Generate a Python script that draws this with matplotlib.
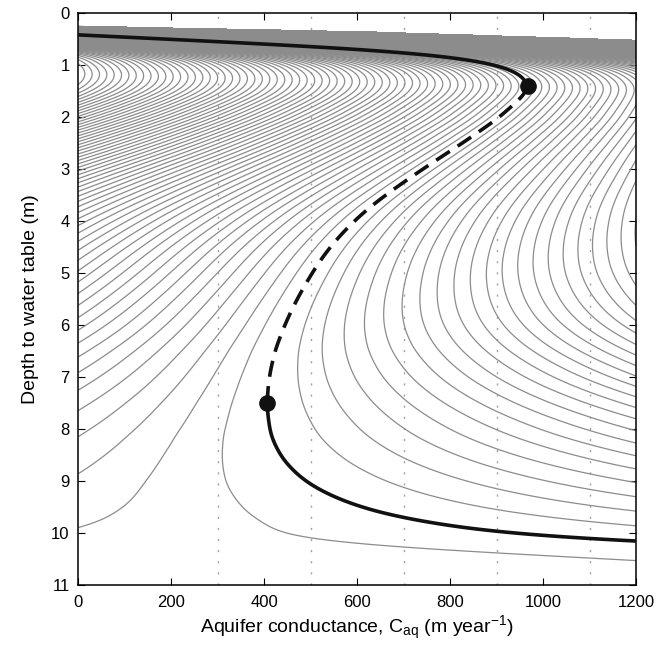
import numpy as np
import matplotlib
matplotlib.use('Agg')
import matplotlib.pyplot as plt

plt.rcParams['font.family'] = ['Liberation Sans', 'DejaVu Sans']
plt.rcParams['mathtext.fontset'] = 'custom'
plt.rcParams['mathtext.rm'] = 'Liberation Sans'
plt.rcParams['mathtext.it'] = 'Liberation Sans:italic'

# equilibrium branch: depth to water table (m) and aquifer conductance (m/yr)
# (first and last few entries continue the branch outside the plotted window)
eq_depth = [0.20, 0.30, 0.42, 0.51, 0.60, 0.69, 0.78, 0.90, 1.03, 1.19, 1.40,
            1.87, 2.40, 2.88, 3.25, 3.56, 3.88, 4.37, 4.75, 5.19, 5.65, 6.13,
            6.60, 7.19, 7.50, 8.02, 8.46, 8.92, 9.23, 9.56, 9.69, 9.98, 10.10,
            10.17, 10.26, 10.40, 10.55, 10.80, 11.10, 11.50, 11.80]
eq_cond = [-530, -280, 0, 210, 420, 610, 745, 850, 915, 952, 968,
           923, 843, 762, 701, 653, 609, 555, 522, 491, 463, 439,
           421, 409, 407, 413, 433, 478, 533, 630, 690, 895, 1055,
           1200, 1430, 1950, 2650, 4200, 7000, 12000, 17000]

# saddle-node points (stable / unstable branches meet here)
fold_depth = [1.40, 7.50]
fold_cond = [968, 407]

# conductance gap between neighbouring gray rate contours at a given depth
gap_depth = [0.20, 0.25, 0.36, 0.42, 0.50, 0.60, 0.70, 0.80, 0.90, 1.00, 1.26,
             1.60, 2.40, 3.25, 3.88, 4.50, 5.00, 5.50, 5.97, 6.90, 7.50, 8.46,
             9.00, 9.50, 9.90, 10.26, 10.47, 10.80, 11.10, 11.50, 11.80]
gap_cond = [4.9, 5.4, 6.75, 7.6, 8.9, 10.8, 12.6, 13.9, 14.8, 15.35, 16.0,
            17.0, 20.4, 24.9, 28.2, 31.3, 34.0, 37.6, 42.3, 58.6, 76.1, 123,
            172, 255, 410, 787, 1197, 2560, 4960, 11000, 17800]

# upper limit of the computed domain
top_cond = [0, 628, 1200]
top_depth = [0.25, 0.36, 0.52]

grid_lines = [300, 500, 700, 900, 1100]


def pchip(x, y, xq):
    x = np.asarray(x, float)
    y = np.asarray(y, float)
    h = np.diff(x)
    s = np.diff(y) / h
    m = np.zeros_like(y)
    m[0], m[-1] = s[0], s[-1]
    for k in range(1, len(x) - 1):
        if s[k - 1] * s[k] > 0:
            w1 = 2 * h[k] + h[k - 1]
            w2 = h[k] + 2 * h[k - 1]
            m[k] = (w1 + w2) / (w1 / s[k - 1] + w2 / s[k])
    i = np.clip(np.searchsorted(x, xq) - 1, 0, len(x) - 2)
    t = (xq - x[i]) / h[i]
    return ((2 * t**3 - 3 * t**2 + 1) * y[i] + (t**3 - 2 * t**2 + t) * h[i] * m[i]
            + (-2 * t**3 + 3 * t**2) * y[i + 1] + (t**3 - t**2) * h[i] * m[i + 1])


def smooth(y, step, sigma):
    # gaussian running mean along depth, edges padded
    n = int(4 * sigma / step)
    k = np.exp(-0.5 * (np.arange(-n, n + 1) * step / sigma) ** 2)
    k /= k.sum()
    return np.convolve(np.pad(y, n, mode='edge'), k, mode='valid')


cc = np.linspace(0, 1200, 900)
dd = np.linspace(0.2, 11.8, 3400)
step = dd[1] - dd[0]
G = smooth(pchip(eq_depth, eq_cond, dd), step, 0.1)
gap = np.exp(smooth(pchip(gap_depth, np.log(gap_cond), dd), step, 0.15))
rate = (G[:, None] - cc[None, :]) / gap[:, None]
above = dd[:, None] < np.interp(cc, top_cond, top_depth)[None, :]
rate = np.ma.masked_where(above, rate)

fig = plt.figure(figsize=(6.68, 6.48), dpi=100)
ax = fig.add_axes([0.1168, 0.0972, 0.8353, 0.8827])

gray = '#8c8c8c'
for g in grid_lines:
    ax.axvline(g, color='#a0a0a0', lw=1.0, ls=(0, (1.5, 6.5)), zorder=1)

ax.contourf(cc, dd, rate, levels=[-1e9, -60], colors=[gray], zorder=2)
lv = [k for k in range(-60, 61) if k != 0]
ax.contour(cc, dd, rate, levels=lv, colors=gray, linewidths=0.9,
           negative_linestyles='solid', zorder=2)

# equilibrium branch: unstable between the folds
mid = (dd[:, None] > fold_depth[0]) & (dd[:, None] < fold_depth[1])
ax.contour(cc, dd, np.ma.masked_where(mid | above, rate), levels=[0],
           colors='#111111', linewidths=2.6, zorder=4)
ax.contour(cc, dd, np.ma.masked_where(~mid | above, rate), levels=[0],
           colors='#111111', linewidths=2.6, linestyles=[(0, (4.5, 2.6))], zorder=4)
ax.plot(fold_cond, fold_depth, 'o', color='#111111', ms=11, zorder=5)

ax.set_xlim(0, 1200)
ax.set_ylim(11, 0)
ax.set_xticks(range(0, 1201, 200))
ax.set_yticks(range(0, 12))
ax.tick_params(direction='in', top=True, right=True, length=5, labelsize=12)
ax.tick_params(axis='x', pad=7)
ax.tick_params(axis='y', pad=6)
for sp in ax.spines.values():
    sp.set_linewidth(1.1)
ax.set_xlabel('Aquifer conductance, C$_{\\mathregular{aq}}$ (m year$^{\\mathregular{-1}}$)',
              fontsize=14, labelpad=3)
ax.set_ylabel('Depth to water table (m)', fontsize=14, labelpad=9)

fig.savefig('out.png', dpi=100)
